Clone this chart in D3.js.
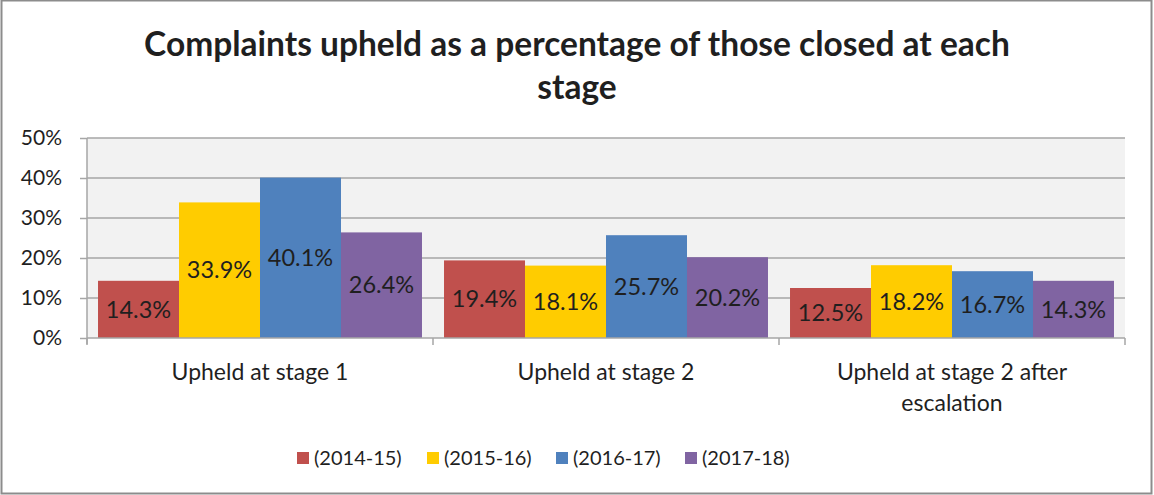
<!DOCTYPE html>
<meta charset="utf-8">
<style>
body { margin: 0; background: #fff; }
text { font-family: Lato, "Liberation Sans", sans-serif; fill: #1f1f1f; }
.title { font-weight: bold; font-size: 33.5px; }
.grid line { stroke: #a6a6a6; stroke-width: 1.5px; }
.axis path, .axis line { stroke: #a6a6a6; stroke-width: 1.5px; }
</style>
<svg width="1154" height="495"></svg>
<script src="https://cdn.jsdelivr.net/npm/d3@7"></script>
<script>

var categories = ["Upheld at stage 1", "Upheld at stage 2", "Upheld at stage 2 after escalation"];
var catLines = [["Upheld at stage 1"], ["Upheld at stage 2"], ["Upheld at stage 2 after", "escalation"]];
var seriesNames = ["(2014-15)", "(2015-16)", "(2016-17)", "(2017-18)"];
var colours = ["#c0504d", "#ffcc00", "#4f81bd", "#8064a2"];
var v1415 = [0.143, 0.194, 0.125];
var v1516 = [0.339, 0.181, 0.182];
var v1617 = [0.401, 0.257, 0.167];
var v1718 = [0.264, 0.202, 0.143];
var yTicks = [0, 0.1, 0.2, 0.3, 0.4, 0.5];

var seriesValues = [v1415, v1516, v1617, v1718];

var svg = d3.select("svg"),
    width = +svg.attr("width"),
    height = +svg.attr("height");

// chart border
svg.append("rect")
    .attr("x", 1.5).attr("y", 0.5)
    .attr("width", width - 4).attr("height", height - 2)
    .attr("fill", "#fff")
    .attr("stroke", "#8c8c8c")
    .attr("stroke-width", 2);

var title = svg.append("text")
    .attr("class", "title")
    .attr("text-anchor", "middle");
title.append("tspan").attr("x", 577).attr("y", 56).text("Complaints upheld as a percentage of those closed at each");
title.append("tspan").attr("x", 577).attr("y", 99).text("stage");

var plotLeft = 87, plotRight = 1125, plotTop = 138, plotBottom = 338;

var x0 = d3.scaleBand().domain(categories).range([plotLeft, plotRight]).padding(0);
var x1 = d3.scaleBand().domain(seriesNames).range([0, x0.bandwidth()]).paddingInner(0).paddingOuter(0.136);
var y = d3.scaleLinear().domain([0, 0.5]).range([plotBottom, plotTop]);

svg.append("rect")
    .attr("x", plotLeft).attr("y", plotTop)
    .attr("width", plotRight - plotLeft).attr("height", plotBottom - plotTop)
    .attr("fill", "#f2f2f2");

svg.append("g")
    .attr("class", "grid")
    .selectAll("line")
    .data(yTicks.slice(1))
    .join("line")
    .attr("x1", plotLeft).attr("x2", plotRight)
    .attr("y1", d => y(d)).attr("y2", d => y(d));

var rows = categories.map(function(c, i) {
  return { cat: c, vals: seriesNames.map(function(s, j) { return { s: s, v: seriesValues[j][i], c: colours[j] }; }) };
});

var groups = svg.append("g").selectAll("g")
    .data(rows)
    .join("g")
    .attr("transform", d => "translate(" + x0(d.cat) + ",0)");

groups.selectAll("rect")
    .data(d => d.vals)
    .join("rect")
    .attr("x", d => x1(d.s))
    .attr("y", d => y(d.v))
    .attr("width", x1.bandwidth())
    .attr("height", d => y(0) - y(d.v))
    .attr("fill", d => d.c);

groups.selectAll("text")
    .data(d => d.vals)
    .join("text")
    .attr("x", d => x1(d.s) + x1.bandwidth() / 2)
    .attr("y", d => (y(d.v) + y(0)) / 2)
    .attr("dy", "0.35em")
    .attr("text-anchor", "middle")
    .style("font-size", "23.5px")
    .text(d => d3.format(".1%")(d.v));

// y axis
var yAxis = svg.append("g")
    .attr("class", "axis")
    .attr("transform", "translate(" + plotLeft + ",0)")
    .call(d3.axisLeft(y).tickValues(yTicks).tickFormat(d3.format(".0%")).tickSize(7).tickPadding(18).tickSizeOuter(0));
yAxis.selectAll("text").style("font-size", "21px").attr("fill", null);
yAxis.select(".domain").attr("d", "M0," + plotTop + "V" + (plotBottom + 6));

// x axis
var xAxis = svg.append("g")
    .attr("class", "axis")
    .attr("transform", "translate(0," + plotBottom + ")");
xAxis.append("line").attr("x1", plotLeft).attr("x2", plotRight).attr("y1", 0).attr("y2", 0);
xAxis.selectAll(".tk")
    .data(categories.concat(["end"]))
    .join("line")
    .attr("class", "tk")
    .attr("x1", (d, i) => plotLeft + i * x0.step())
    .attr("x2", (d, i) => plotLeft + i * x0.step())
    .attr("y1", 0).attr("y2", 7);

var catText = svg.append("g").selectAll("text")
    .data(categories)
    .join("text")
    .attr("text-anchor", "middle")
    .style("font-size", "23px");
catText.each(function(d, i) {
  var t = d3.select(this);
  catLines[i].forEach(function(line, k) {
    t.append("tspan")
        .attr("x", x0(d) + x0.bandwidth() / 2)
        .attr("y", 380 + k * 31)
        .text(line);
  });
});

// legend
var legendX = [297, 427, 556, 685];
var legend = svg.append("g").selectAll("g")
    .data(seriesNames)
    .join("g")
    .attr("transform", (d, i) => "translate(" + legendX[i] + ",452)");
legend.append("rect")
    .attr("width", 12).attr("height", 12)
    .attr("fill", (d, i) => colours[i]);
legend.append("text")
    .attr("x", 17).attr("y", 6)
    .attr("dy", "0.35em")
    .style("font-size", "20px")
    .text(d => d);

</script>
